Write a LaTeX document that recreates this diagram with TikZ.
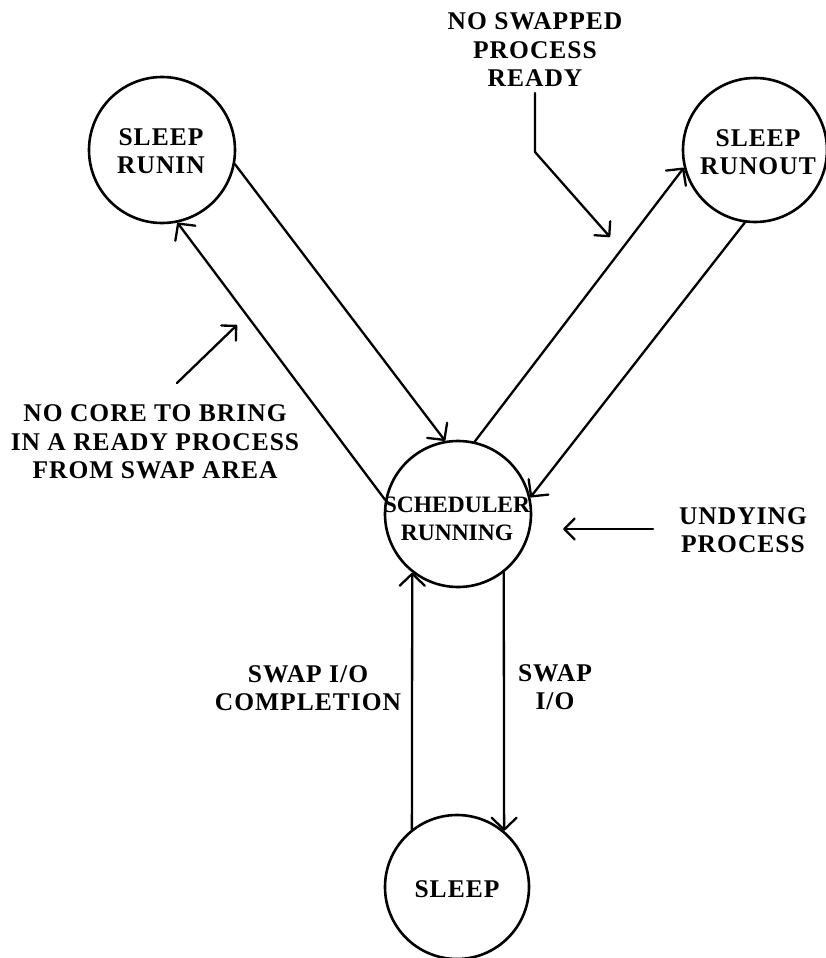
\documentclass[tikz,border=0pt]{standalone}
\usepackage{fontspec}
\setmainfont{Liberation Serif}[LetterSpace=4]
\newfontfamily\tightfont{Liberation Serif}
\usetikzlibrary{arrows.meta}
\newcommand{\lblfont}{\fontsize{25.5}{28.5}\selectfont\bfseries}
\newcommand{\schedfont}{\tightfont\fontsize{23.5}{28.5}\selectfont\bfseries}

\begin{document}
\begin{tikzpicture}[x=1pt,y=-1pt,
  every node/.style={font=\lblfont, align=center, inner sep=0pt},
  state/.style={draw, circle, line width=2.6pt, minimum size=146pt},
  conn/.style={line width=2.3pt, line cap=round,
    -{Straight Barb[length=12pt,width=25pt,round]}},
  note/.style={line width=2.3pt, line cap=round, line join=round,
    -{Straight Barb[length=10.5pt,width=21pt,round]}}]
\useasboundingbox (0,0) rectangle (826,958);

% states
\node[state] (runin) at (162,150) {};
\node[state, minimum size=144pt] (runout) at (755,150) {};
\node[state] (sched) at (458,514) {};
\node[state, minimum size=144pt] (sleep) at (457,887) {};

% state names
\node (runintxt) at (161,151) {SLEEP\\RUNIN};
\node (runouttxt) at (758,152) {SLEEP\\RUNOUT};
\node[font=\schedfont] (schedtxt) at (457,519) {SCHEDULER\\RUNNING};
\node (sleeptxt) at (457,889) {SLEEP};

% transitions
\draw[conn] (runin.-11) -- (sched.100);
\draw[conn] (sched.169) -- (runin.-78);
\draw[conn] (sched.77) -- (runout.194);
\draw[conn] (runout.262) -- (sched.13);
\draw[conn] (sleep.128) -- (sched.232);
\draw[conn] (sched.-52) -- (sleep.50);

% transition labels
\node (swcomp) at (308,688) {SWAP I/O\\COMPLETION};
\node (swio) at (555,687) {SWAP\\I/O};

% annotations
\node (nswap) at (535,50) {NO SWAPPED\\PROCESS\\READY};
\node (ncore) at (155,442) {NO CORE TO BRING\\IN A READY PROCESS\\FROM SWAP AREA};
\node (undy) at (743,530) {UNDYING\\PROCESS};

\coordinate (c0) at (177,383);
\coordinate (c1) at (237,325);
\draw[note] (c0) -- (c1);

\coordinate (s0) at (535,93);
\coordinate (s1) at (535,152);
\coordinate (s2) at (610,237);
\draw[note] (s0) -- (s1) -- (s2);

\coordinate (u0) at (653,529);
\coordinate (u1) at (563,529);
\draw[note] (u0) -- (u1);
\end{tikzpicture}
\end{document}
